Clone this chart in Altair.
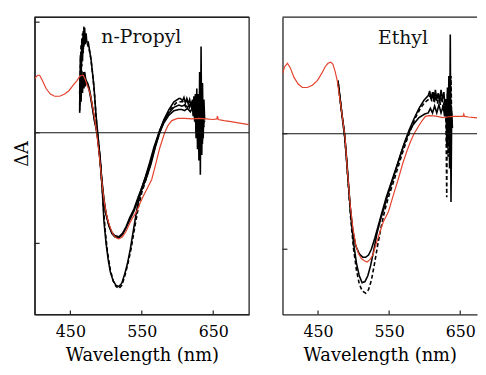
import altair as alt
import pandas as pd

# ---------------- n-Propyl panel ----------------
p_red_wl = [400, 404, 407, 411, 416, 422, 428, 435, 442, 448, 454, 459, 463, 466, 468, 471, 474, 477, 480, 483, 486,
            489, 492, 495, 498, 502, 506, 510, 514, 518, 523, 528, 533, 538, 543, 548, 553, 558, 564, 570, 575, 582,
            587, 592, 600, 610, 620, 630, 640, 650, 655, 656, 657, 665, 675, 685, 700]
p_red_v = [0.49, 0.52, 0.52, 0.47, 0.40, 0.35, 0.33, 0.33, 0.35, 0.38, 0.43, 0.47, 0.51, 0.52, 0.52, 0.48, 0.42, 0.37,
           0.28, 0.17, 0.04, -0.12, -0.30, -0.50, -0.65, -0.78, -0.86, -0.92, -0.95, -0.96, -0.94, -0.89, -0.82,
           -0.76, -0.71, -0.63, -0.56, -0.50, -0.42, -0.27, -0.14, 0.0, 0.07, 0.11, 0.13, 0.13,
           0.125, 0.13, 0.125, 0.12, 0.125, 0.15, 0.12, 0.11, 0.10, 0.09, 0.074]

p_b_wl = [463, 464, 465, 466, 467, 468, 469, 470, 471, 472, 473, 475, 477, 479, 481, 483, 486, 488, 490, 492, 495, 497,
          500, 503, 506, 510, 514, 518, 522, 526, 530, 534, 539, 544, 549, 555, 561, 567, 574, 581, 588, 595, 602,
          604, 607, 609, 611, 613, 615, 617, 619, 621, 622, 623, 624, 625, 626, 627, 628, 629, 630, 631, 632, 633,
          634, 635, 636, 637, 638]
p_b_v = [0.20, 0.70, 0.45, 0.85, 0.65, 0.92, 0.78, 0.95, 0.80, 0.90, 0.82, 0.82, 0.74, 0.66, 0.54, 0.42, 0.15, 0.02,
         -0.12, -0.25, -0.55, -0.80, -1.00, -1.15, -1.26, -1.34, -1.38, -1.39, -1.36, -1.28, -1.18, -1.05, -0.85,
         -0.66, -0.52, -0.40, -0.27, -0.13, 0.0, 0.12, 0.21, 0.28, 0.31, 0.31, 0.29, 0.32, 0.27, 0.31, 0.26, 0.30,
         0.24, 0.30, 0.18, 0.33, 0.10, 0.35, -0.05, 0.40, -0.15, 0.35, -0.25, 0.55, -0.38, 0.78, -0.20, 0.45,
         -0.05, 0.30, 0.12]

p_c_wl = [463, 464, 465, 466, 467, 468, 469, 470, 471, 472, 474, 476, 478, 480, 482, 484, 486, 488, 490, 493, 496, 499,
          502, 506, 510, 514, 518, 522, 526, 530, 535, 540, 545, 550, 556, 562, 568, 575, 582, 590, 598, 604, 608,
          611, 614, 617, 620, 622, 624, 626, 627, 629, 630, 632, 633, 635, 636, 638]
p_c_v = [0.35, 0.60, 0.80, 0.60, 0.90, 0.72, 0.96, 0.80, 0.88, 0.84, 0.80, 0.76, 0.70, 0.60, 0.48, 0.33, 0.14, 0.0,
         -0.12, -0.35, -0.65, -0.90, -1.08, -1.24, -1.34, -1.39, -1.41, -1.38, -1.30, -1.20, -1.05, -0.86, -0.68,
         -0.54, -0.42, -0.28, -0.14, 0.0, 0.12, 0.21, 0.27, 0.28, 0.28, 0.24, 0.29, 0.23, 0.28, 0.15, 0.32, 0.0,
         0.30, -0.10, 0.30, -0.20, 0.40, -0.10, 0.25, 0.10]

p_a_wl = [463, 464, 465, 466, 467, 468, 469, 470, 471, 472, 474, 476, 478, 480, 482, 484, 486, 488, 491, 494, 497, 500,
          504, 508, 512, 518, 523, 528, 533, 539, 545, 551, 557, 563, 569, 575, 581, 588, 595, 602, 606, 610, 614,
          618, 621, 623, 625, 627, 629, 631, 632, 634, 635, 637]
p_a_v = [0.18, 0.42, 0.28, 0.50, 0.36, 0.55, 0.40, 0.52, 0.42, 0.48, 0.44, 0.40, 0.33, 0.26, 0.18, 0.10, 0.05, -0.03,
         -0.20, -0.42, -0.60, -0.73, -0.84, -0.91, -0.94, -0.95, -0.92, -0.86, -0.79, -0.71, -0.60, -0.50, -0.40,
         -0.28, -0.13, 0.0, 0.09, 0.16, 0.20, 0.21, 0.21, 0.20, 0.22, 0.19, 0.23, 0.15, 0.25, 0.05, 0.30, -0.05,
         0.25, -0.10, 0.20, 0.05]

p_a2_wl = [463, 464, 465, 466, 467, 468, 469, 470, 472, 474, 476, 478, 480, 482, 484, 486, 488, 491, 494, 497, 500, 504,
           508, 512, 518, 523, 528, 533, 539, 545, 551, 557, 563, 569, 575, 581, 588, 595, 602, 606, 610, 614, 618,
           622, 624, 626, 628, 630, 632, 633, 635, 637]
p_a2_v = [0.25, 0.50, 0.32, 0.56, 0.42, 0.50, 0.45, 0.55, 0.46, 0.45, 0.41, 0.35, 0.27, 0.19, 0.10, 0.04, -0.04,
          -0.22, -0.44, -0.62, -0.74, -0.84, -0.90, -0.93, -0.94, -0.91, -0.85, -0.77, -0.69, -0.58, -0.48, -0.37,
          -0.25, -0.11, 0.02, 0.11, 0.18, 0.23, 0.25, 0.24, 0.25, 0.23, 0.26, 0.20, 0.28, 0.10, 0.30, 0.0, 0.35,
          -0.15, 0.20, 0.08]

# ---------------- Ethyl panel ----------------
e_red_wl = [400, 403, 407, 411, 416, 422, 428, 435, 442, 449, 455, 460, 464, 468, 471, 474, 477, 480, 483, 486, 488,
            491, 495, 499, 503, 507, 511, 515, 519, 523, 527, 531, 536, 542, 549, 556, 563, 569, 575, 580, 585, 591,
            596, 601, 606, 612, 618, 625, 632, 640, 648, 654, 655, 656, 662, 670, 678, 685, 692, 700]
e_red_v = [0.52, 0.58, 0.61, 0.57, 0.49, 0.43, 0.40, 0.40, 0.42, 0.46, 0.52, 0.58, 0.61, 0.62, 0.60, 0.54, 0.46, 0.33,
           0.20, 0.06, -0.03, -0.30, -0.60, -0.82, -0.96, -1.04, -1.08, -1.10, -1.11, -1.09, -1.05, -0.97, -0.87,
           -0.76, -0.675, -0.53, -0.39, -0.26, -0.15, -0.07, 0.0, 0.06, 0.11, 0.15, 0.156, 0.155, 0.15, 0.14, 0.145,
           0.15, 0.15, 0.15, 0.17, 0.15, 0.145, 0.14, 0.135, 0.128, 0.12, 0.115]

e_1_wl = [478, 480, 483, 486, 488, 491, 495, 499, 503, 508, 513, 517, 521, 525, 530, 535, 540, 546, 552, 558, 564, 570,
          577, 584, 592, 600, 605, 608, 611, 614, 617, 620, 623, 626, 628, 630, 632, 634, 635, 637, 638]
e_1_v = [0.46, 0.36, 0.20, 0.05, -0.05, -0.30, -0.62, -0.84, -0.97, -1.04, -1.07, -1.07, -1.05, -1.00, -0.90, -0.79,
         -0.68, -0.55, -0.44, -0.33, -0.22, -0.11, 0.0, 0.08, 0.14, 0.17, 0.18, 0.22, 0.18, 0.24, 0.18, 0.25, 0.18,
         0.24, 0.15, 0.30, -0.10, 0.35, -0.20, 0.25, 0.05]

e_2_wl = [478, 481, 484, 487, 490, 493, 496, 500, 504, 508, 512, 516, 520, 524, 528, 533, 538, 542, 548, 554, 560, 566,
          572, 578, 585, 592, 599, 605, 607, 609, 611, 613, 615, 617, 619, 621, 623, 625, 627, 629, 630, 631, 632,
          633, 634, 635, 636, 637, 638, 639]
e_2_v = [0.46, 0.30, 0.15, 0.02, -0.20, -0.45, -0.70, -0.95, -1.12, -1.23, -1.29, -1.28, -1.23, -1.14, -1.02, -0.86,
         -0.74, -0.66, -0.53, -0.42, -0.30, -0.18, -0.07, 0.03, 0.13, 0.22, 0.29, 0.33, 0.37, 0.30, 0.36, 0.28,
         0.38, 0.30, 0.35, 0.27, 0.38, 0.30, 0.36, 0.20, 0.30, -0.10, 0.40, 0.0, 0.50, -0.30, 0.86, -0.59, 0.20,
         0.05]

e_3_wl = [478, 481, 484, 487, 490, 493, 496, 500, 504, 508, 512, 517, 521, 525, 529, 534, 539, 544, 550, 556, 562, 568,
          574, 580, 587, 594, 600, 606, 608, 610, 612, 614, 616, 618, 620, 622, 624, 626, 628, 630, 631, 632, 633,
          634, 636, 637, 638]
e_3_v = [0.45, 0.30, 0.14, 0.0, -0.22, -0.48, -0.74, -1.00, -1.18, -1.30, -1.36, -1.38, -1.35, -1.27, -1.14, -0.96,
         -0.80, -0.66, -0.53, -0.42, -0.30, -0.18, -0.07, 0.03, 0.14, 0.22, 0.27, 0.30, 0.34, 0.28, 0.36, 0.27,
         0.33, 0.26, 0.35, 0.25, 0.32, 0.22, 0.30, 0.10, -0.55, 0.35, -0.20, 0.40, -0.30, 0.50, 0.10]

tick_wl = [450, 550, 650]

H = 301
FONT = "DejaVu Serif"
RED = "#e4432d"
INK = "#222222"


def long(series):
    rows = []
    for name, wl, v in series:
        for a, b in zip(wl, v):
            rows.append({"series": name, "wl": a, "v": b})
    return pd.DataFrame(rows)


def panel(label, red, blacks, dashed, xdom, width, ydom, yticks, ytitle, label_pos, framed):
    xs = alt.Scale(domain=xdom, nice=False, zero=False)
    ys = alt.Scale(domain=ydom, nice=False, zero=False)
    xaxis = alt.Axis(values=tick_wl, ticks=False, domain=True, domainColor=INK, domainWidth=1.3, grid=False,
                     labelFont=FONT, labelFontSize=16, labelColor="black", labelPadding=9,
                     title="Wavelength (nm)", titleFont=FONT, titleFontSize=18, titleFontWeight="normal",
                     titleColor="black", titlePadding=8)
    if ytitle:
        yaxis = alt.Axis(labels=False, ticks=False, domain=True, domainColor=INK, domainWidth=1.3, grid=False,
                         title=ytitle, titleFont=FONT, titleFontSize=18, titleFontWeight="normal",
                         titleColor="black", titleX=-7, titleY=138, titleBaseline="alphabetic")
    else:
        yaxis = alt.Axis(labels=False, ticks=False, domain=True, domainColor=INK, domainWidth=1.3, grid=False,
                         title=None)

    bdf = long(blacks)
    ddf = long(dashed)
    rdf = long([("red", red[0], red[1])])

    solid = alt.Chart(bdf).mark_line(color="black", strokeWidth=1.6, clip=True).encode(
        x=alt.X("wl:Q", scale=xs, axis=xaxis),
        y=alt.Y("v:Q", scale=ys, axis=yaxis),
        detail="series:N",
    )
    dash = alt.Chart(ddf).mark_line(color="black", strokeWidth=1.6, strokeDash=[4, 2.5], clip=True).encode(
        x=alt.X("wl:Q", scale=xs), y=alt.Y("v:Q", scale=ys), detail="series:N"
    )
    redl = alt.Chart(rdf).mark_line(color=RED, strokeWidth=1.2, clip=True).encode(
        x=alt.X("wl:Q", scale=xs), y=alt.Y("v:Q", scale=ys)
    )
    zero = alt.Chart(pd.DataFrame({"z": [0]})).mark_rule(color="#111", strokeWidth=1.2).encode(
        y=alt.Y("z:Q", scale=ys), x=alt.value(0), x2=alt.value(width)
    )
    xt = alt.Chart(pd.DataFrame({"t": tick_wl})).mark_rule(color=INK, strokeWidth=1.2).encode(
        x=alt.X("t:Q", scale=xs), y=alt.value(H), y2=alt.value(H - 4)
    )
    yt = alt.Chart(pd.DataFrame({"t": yticks})).mark_rule(color=INK, strokeWidth=1.2).encode(
        y=alt.Y("t:Q", scale=ys), x=alt.value(0), x2=alt.value(5)
    )
    top = alt.Chart(pd.DataFrame({"z": [0]})).mark_rule(color=INK, strokeWidth=1.3).encode(
        y=alt.value(0), x=alt.value(0), x2=alt.value(width)
    )
    txt = alt.Chart(pd.DataFrame({"s": [label]})).mark_text(
        font=FONT, fontSize=19, color="#111", align="center", baseline="alphabetic"
    ).encode(x=alt.value(label_pos[0]), y=alt.value(label_pos[1]), text="s:N")
    layers = [solid, dash, redl, zero, xt, yt, top, txt]
    ch = alt.layer(*layers).properties(width=width, height=H)
    if framed:
        ch = ch.properties(view=alt.ViewBackground(stroke=INK, strokeWidth=1.3))
    return ch


left = panel(
    "n-Propyl",
    (p_red_wl, p_red_v),
    [("A", p_a_wl, p_a_v), ("A2", p_a2_wl, p_a2_v), ("B", p_b_wl, p_b_v)],
    [("C", p_c_wl, p_c_v)],
    [400, 700], 217,
    [-1.642, 1.045], [1, 0, -1], "ΔA", (108, 26), True,
)
right = panel(
    "Ethyl",
    (e_red_wl, e_red_v),
    [("E1", e_1_wl, e_1_v), ("E2", e_2_wl, e_2_v)],
    [("E3", e_3_wl, e_3_v)],
    [400, 673.6], 197,
    [-1.564, 1.009], [0, -1], None, (122, 27), False,
)

chart = alt.hconcat(left, right, spacing=31).properties(
    padding={"left": 5, "top": 5, "right": 0, "bottom": 0}
).configure(background="white").configure_view(stroke=None)

chart.save("out.html", embed_options={"renderer": "svg", "actions": False})
